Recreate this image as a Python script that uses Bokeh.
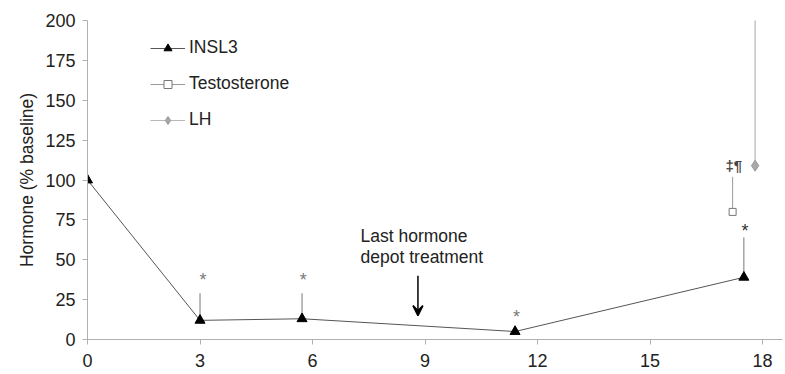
from bokeh.plotting import figure
from bokeh.models import Range1d, FixedTicker, Legend, LegendItem, Arrow, VeeHead
from bokeh.core.properties import value
from bokeh.embed import file_html
from bokeh.resources import INLINE

# ---- data ----
months = [0, 3, 5.72, 11.4, 17.5]
insl3 = [100, 12, 13, 5, 39]
insl3_upper = [100, 29, 29, 5, 64]

testo_x = [17.2]
testo = [80]
testo_upper = [102]

lh_x = [17.8]
lh = [109]
lh_upper = [202]

sig_x = [3.08, 5.75, 11.44, 17.53]
sig_y = [37, 37, 14, 68]
sig_text = ["*", "*", "*", "*"]
sig_colors = ["#7a7a7a", "#7a7a7a", "#7a7a7a", "#333333"]

sig2_x = [17.23]
sig2_y = [109]
sig2_text = ["\u2021\u00b6"]

note_x = [7.28, 7.28]
note_y = [65.2, 52.0]
note_text = ["Last hormone", "depot treatment"]

arrow_x = 8.81
arrow_y0 = 40
arrow_y1 = 15

x_ticks = [0, 3, 6, 9, 12, 15, 18]
y_ticks = [0, 25, 50, 75, 100, 125, 150, 175, 200]

FONT = "Liberation Sans"

p = figure(width=785, height=374, output_backend="svg", toolbar_location=None,
           x_range=Range1d(0, 18.53), y_range=Range1d(0, 200),
           min_border_left=87, min_border_right=3, min_border_top=20, min_border_bottom=35)
p.outline_line_color = None
p.xgrid.visible = False
p.ygrid.visible = False
p.background_fill_color = "white"

for ax in (p.xaxis[0], p.yaxis[0]):
    ax.axis_line_color = "#b0b0b0"
    ax.major_tick_line_color = "#b0b0b0"
    ax.minor_tick_line_color = None
    ax.major_tick_in = 0
    ax.major_tick_out = 5
    ax.major_label_text_font = FONT
    ax.major_label_text_font_size = "18px"
    ax.major_label_text_color = "#222222"

p.xaxis.ticker = FixedTicker(ticks=x_ticks)
p.yaxis.ticker = FixedTicker(ticks=y_ticks)
p.xaxis.major_label_standoff = 9
p.yaxis.major_label_standoff = 7
p.yaxis.axis_label = "Hormone (% baseline)"
p.yaxis.axis_label_text_font = FONT
p.yaxis.axis_label_text_font_size = "17.5px"
p.yaxis.axis_label_text_font_style = "normal"
p.yaxis.axis_label_text_color = "#222222"
p.yaxis.axis_label_standoff = 5

# error bars
p.segment(x0=lh_x, y0=lh, x1=lh_x, y1=lh_upper, line_color="#c4c4c4", line_width=1.5)
p.segment(x0=testo_x, y0=testo, x1=testo_x, y1=testo_upper, line_color="#9a9a9a", line_width=1)
p.segment(x0=months, y0=insl3, x1=months, y1=insl3_upper, line_color="#777777", line_width=1)

# series
l_insl3 = p.line(months, insl3, line_color="#555555", line_width=1)
m_insl3 = p.scatter(months, insl3, marker="triangle", size=10, fill_color="black", line_color="black")
l_testo = p.line(testo_x, testo, line_color="#9a9a9a", line_width=1)
m_testo = p.scatter(testo_x, testo, marker="square", size=7, fill_color="white", line_color="#777777")
l_lh = p.line(lh_x, lh, line_color="#b8b8b8", line_width=1)
m_lh = p.scatter(lh_x, lh, marker="diamond", size=11, fill_color="#a8a8a8", line_color="#999999")

# significance marks
p.text(x=sig_x, y=sig_y, text=sig_text, text_color=sig_colors, text_font=value(FONT),
       text_font_size="18px", text_align="center", text_baseline="middle")
p.text(x=sig2_x, y=sig2_y, text=sig2_text, text_color="#444444", text_font=value(FONT),
       text_font_size="15px", text_font_style="bold", text_align="center", text_baseline="middle")

# annotation
p.text(x=note_x, y=note_y, text=note_text, text_color="#222222", text_font=value(FONT),
       text_font_size="17.5px", text_align="left", text_baseline="middle")
p.add_layout(Arrow(end=VeeHead(size=10, line_color="black", fill_color="black", line_width=1.5),
                   x_start=arrow_x, y_start=arrow_y0, x_end=arrow_x, y_end=arrow_y1,
                   line_color="black", line_width=1.5))

legend = Legend(items=[
    LegendItem(label="INSL3", renderers=[l_insl3, m_insl3]),
    LegendItem(label="Testosterone", renderers=[l_testo, m_testo]),
    LegendItem(label="LH", renderers=[l_lh, m_lh]),
], location=(63, 209), padding=0, margin=0, spacing=15, glyph_width=35, glyph_height=20,
   label_height=20, label_standoff=4, label_text_font=FONT, label_text_font_size="17.5px",
   label_text_color="#222222", border_line_color=None, background_fill_alpha=0)
p.add_layout(legend)

open("out.html", "w").write(file_html(p, INLINE))
